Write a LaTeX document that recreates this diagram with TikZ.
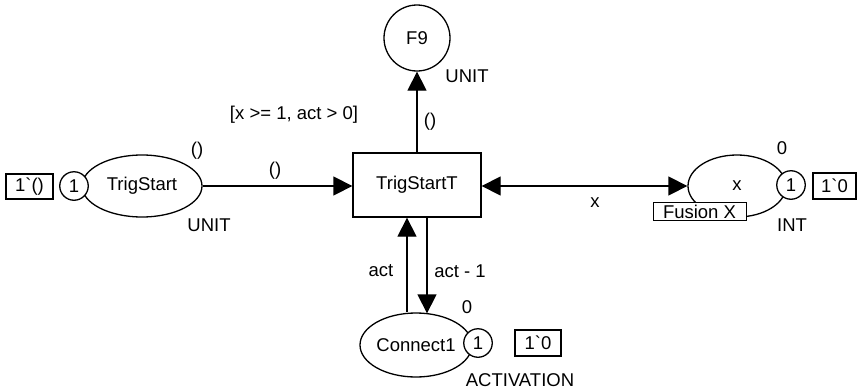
\documentclass[tikz,border=0pt]{standalone}
\usepackage{fontspec}
\setmainfont{Liberation Sans}[Ligatures=TeXOff]
\usetikzlibrary{shapes.geometric,arrows.meta}

\begin{document}
\begin{tikzpicture}[x=1pt,y=-1pt,line width=1.3pt,
  every node/.style={font=\fontsize{18.5}{21}\selectfont},
  place/.style={draw,ellipse,inner sep=0pt,fill=white},
  trans/.style={draw,rectangle,inner sep=0pt,minimum width=128pt,minimum height=64pt},
  token/.style={draw,circle,fill=white,inner sep=0pt,minimum size=28.5pt},
  markbox/.style={draw,rectangle,inner sep=0pt,minimum height=26pt},
  fusion/.style={draw,rectangle,fill=white,inner sep=0pt,line width=1pt,minimum height=18pt,minimum width=93pt},
  lbl/.style={inner sep=0pt},
  arc/.style={-{Triangle[length=19pt,width=19pt]}},
  biarc/.style={{Triangle[length=19pt,width=19pt]}-{Triangle[length=19pt,width=19pt]}}
]
\useasboundingbox (0,0) rectangle (857,391);

% transition
\node[trans] (t) at (417,185) {TrigStartT};
\node[lbl] (guard) at (294,115) {[x >= 1, act > 0]};

% output place F9
\node[draw,circle,inner sep=0pt,minimum size=66pt] (f9) at (417,38) {F9};
\node[lbl] (f9type) at (467,76) {UNIT};

% place TrigStart
\node[place,minimum width=120pt,minimum height=62pt] (ts) at (142,186) {TrigStart};
\node[token] (tstok) at (74,186) {1};
\node[markbox,minimum width=47pt,minimum height=25pt] (tsmark) at (29.5,186.5) {1`()};
\node[lbl] (tsinit) at (197,151) {()};
\node[lbl] (tstype) at (209,225) {UNIT};

% fusion place x
\node[place,minimum width=98pt,minimum height=62pt] (xp) at (737,186) {x};
\node[token] (xtok) at (791,185) {1};
\node[markbox,minimum width=43pt] (xmark) at (834.5,186) {1`0};
\node[lbl] (xinit) at (782,148) {0};
\node[lbl] (xtype) at (792,225) {INT};
\node[fusion] (xfus) at (699.5,211.5) {Fusion X};

% place Connect1
\node[place,minimum width=110pt,minimum height=64pt] (c1) at (416,345) {Connect1};
\node[token] (c1tok) at (478,343) {1};
\node[markbox,minimum width=46pt] (c1mark) at (538,343) {1`0};
\node[lbl] (c1init) at (467,307) {0};
\node[lbl] (c1type) at (520,380) {ACTIVATION};

% arcs
\draw[arc] (ts.east) -- (ts.east -| t.west);
\node[lbl] (a1) at (275,171) {()};

\draw[arc] (t.north) -- (f9.south);
\node[lbl] (a2) at (430,122) {()};

\draw[biarc] (t.east |- xp.west) -- (xp.west);
\node[lbl] (a3) at (595,203) {x};

\draw[arc] ([xshift=-9pt]c1.north) -- ([xshift=-10pt]t.south);
\node[lbl] (a4) at (381,271) {act};

\draw[arc] ([xshift=10pt]t.south) -- ([xshift=11pt,yshift=-1pt]c1.north);
\node[lbl] (a5) at (460,271) {act - 1};
\end{tikzpicture}
\end{document}
